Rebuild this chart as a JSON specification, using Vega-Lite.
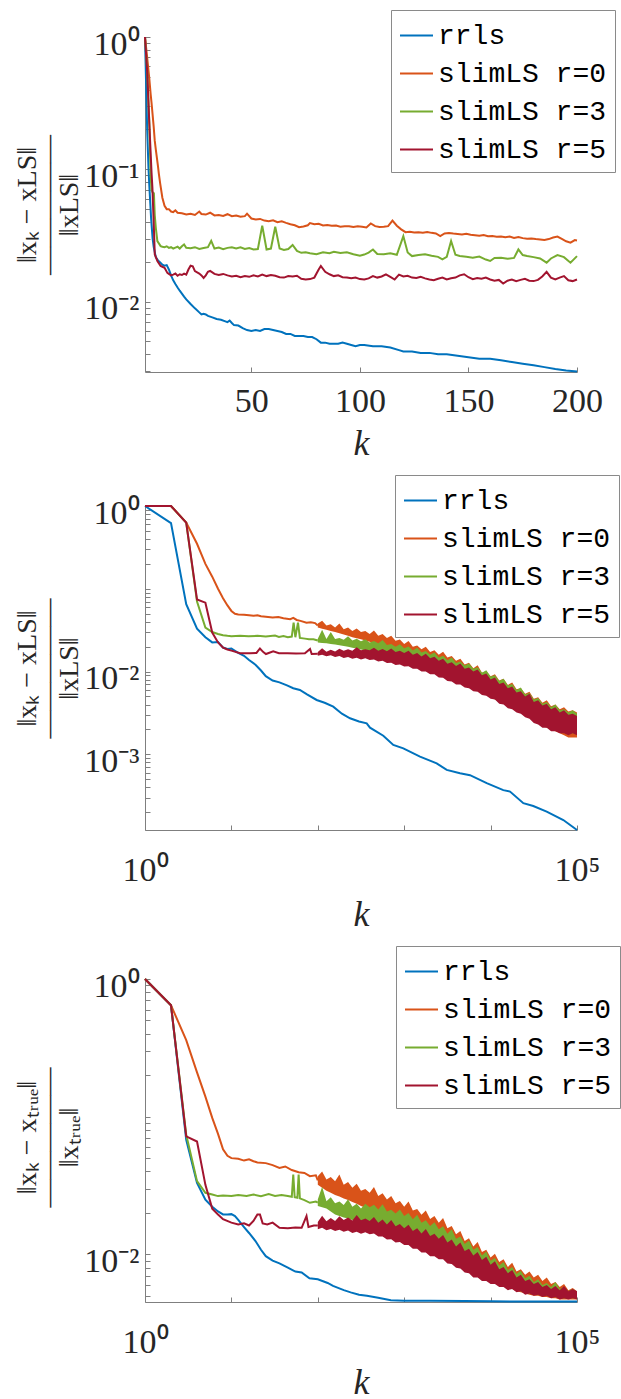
{
"$schema":"https://vega.github.io/schema/vega-lite/v6.json",
"padding":{"left":13,"top":9,"right":0,"bottom":0},
"spacing":13,
"resolve":{"scale":{"color":"independent","fill":"independent"},"legend":{"color":"independent","fill":"independent"}},
"config":{
 "view":{"stroke":null},
 "axis":{"domainColor":"#7f7f7f","tickColor":"#7f7f7f","tickSize":-5,"grid":false,"labelFont":"Liberation Serif","labelFontSize":34,"labelColor":"#262626","titleFont":"Liberation Serif","titleColor":"#262626","titleFontWeight":"normal","labelOverlap":false,"labelFlush":false,"labelBound":false},
 "axisX":{"titleFontStyle":"italic","titleFontSize":36,"titleBaseline":"alphabetic","labelPadding":28},
 "axisY":{"titleAngle":-90,"titleAlign":"center","titleBaseline":"top","titleFontSize":28,"titleLineHeight":21,"labelOffset":7,"labelPadding":11},
 "legend":{"orient":"none","fillColor":"white","strokeColor":"#8a8a8a","padding":8,"symbolType":"stroke","symbolSize":1089,"symbolStrokeWidth":2,"labelFont":"Liberation Mono","labelFontSize":28,"labelColor":"#000000","labelOffset":4,"rowPadding":6,"labelLimit":400},
 "line":{"strokeWidth":2}
},
"datasets":{
"l1":[
{"s":"rrls","k":1,"v":1},{"s":"rrls","k":2,"v":0.2},{"s":"rrls","k":2.6,"v":0.103},{"s":"rrls","k":3,"v":0.075},{"s":"rrls","k":3.8,"v":0.043},{"s":"rrls","k":4.5,"v":0.03},{"s":"rrls","k":5,"v":0.026},{"s":"rrls","k":6,"v":0.0216},{"s":"rrls","k":7,"v":0.0205},{"s":"rrls","k":8,"v":0.0198},{"s":"rrls","k":9,"v":0.019},{"s":"rrls","k":10,"v":0.0187},{"s":"rrls","k":11,"v":0.0189},{"s":"rrls","k":12,"v":0.0175},{"s":"rrls","k":13,"v":0.0158},{"s":"rrls","k":14,"v":0.0145},{"s":"rrls","k":15,"v":0.0136},{"s":"rrls","k":16,"v":0.0128},{"s":"rrls","k":17,"v":0.0121},{"s":"rrls","k":18,"v":0.0115},{"s":"rrls","k":19,"v":0.0109},{"s":"rrls","k":20,"v":0.0104},{"s":"rrls","k":22,"v":0.0096},{"s":"rrls","k":24,"v":0.0089},{"s":"rrls","k":26,"v":0.0083},{"s":"rrls","k":27,"v":0.008},{"s":"rrls","k":28,"v":0.0081},{"s":"rrls","k":29,"v":0.008},{"s":"rrls","k":30,"v":0.0078},{"s":"rrls","k":32,"v":0.0076},{"s":"rrls","k":34,"v":0.0074},{"s":"rrls","k":36,"v":0.0073},{"s":"rrls","k":38,"v":0.0071},{"s":"rrls","k":39,"v":0.007},{"s":"rrls","k":40,"v":0.0072},{"s":"rrls","k":41,"v":0.0069},{"s":"rrls","k":42,"v":0.00665},{"s":"rrls","k":44,"v":0.0066},{"s":"rrls","k":46,"v":0.0063},{"s":"rrls","k":48,"v":0.0061},{"s":"rrls","k":50,"v":0.006},{"s":"rrls","k":52,"v":0.0061},{"s":"rrls","k":54,"v":0.006},{"s":"rrls","k":56,"v":0.0062},{"s":"rrls","k":58,"v":0.0062},{"s":"rrls","k":60,"v":0.0061},{"s":"rrls","k":62,"v":0.006},{"s":"rrls","k":64,"v":0.0059},{"s":"rrls","k":66,"v":0.0057},{"s":"rrls","k":68,"v":0.0057},{"s":"rrls","k":70,"v":0.0055},{"s":"rrls","k":72,"v":0.0055},{"s":"rrls","k":74,"v":0.0055},{"s":"rrls","k":76,"v":0.0054},{"s":"rrls","k":78,"v":0.0054},{"s":"rrls","k":80,"v":0.0052},{"s":"rrls","k":82,"v":0.0049},{"s":"rrls","k":84,"v":0.0049},{"s":"rrls","k":86,"v":0.0048},{"s":"rrls","k":88,"v":0.0048},{"s":"rrls","k":90,"v":0.0048},{"s":"rrls","k":92,"v":0.0049},{"s":"rrls","k":94,"v":0.0048},{"s":"rrls","k":96,"v":0.0047},{"s":"rrls","k":98,"v":0.0046},{"s":"rrls","k":100,"v":0.0047},{"s":"rrls","k":102,"v":0.0047},{"s":"rrls","k":106,"v":0.0046},{"s":"rrls","k":110,"v":0.0046},{"s":"rrls","k":114,"v":0.0045},{"s":"rrls","k":118,"v":0.0043},{"s":"rrls","k":120,"v":0.0042},{"s":"rrls","k":124,"v":0.0042},{"s":"rrls","k":128,"v":0.0041},{"s":"rrls","k":132,"v":0.0041},{"s":"rrls","k":136,"v":0.004},{"s":"rrls","k":140,"v":0.004},{"s":"rrls","k":145,"v":0.0039},{"s":"rrls","k":150,"v":0.0038},{"s":"rrls","k":155,"v":0.0037},{"s":"rrls","k":160,"v":0.0037},{"s":"rrls","k":165,"v":0.0036},{"s":"rrls","k":170,"v":0.0035},{"s":"rrls","k":175,"v":0.0034},{"s":"rrls","k":180,"v":0.0033},{"s":"rrls","k":185,"v":0.0032},{"s":"rrls","k":190,"v":0.0031},{"s":"rrls","k":195,"v":0.00302},{"s":"rrls","k":200,"v":0.00296},
{"s":"slimLS r=0","k":1,"v":1},{"s":"slimLS r=0","k":2,"v":0.7},{"s":"slimLS r=0","k":3,"v":0.48},{"s":"slimLS r=0","k":3.6,"v":0.37},{"s":"slimLS r=0","k":4,"v":0.32},{"s":"slimLS r=0","k":5,"v":0.21},{"s":"slimLS r=0","k":5.5,"v":0.164},{"s":"slimLS r=0","k":6,"v":0.14},{"s":"slimLS r=0","k":7,"v":0.105},{"s":"slimLS r=0","k":7.4,"v":0.092},{"s":"slimLS r=0","k":8,"v":0.078},{"s":"slimLS r=0","k":9,"v":0.061},{"s":"slimLS r=0","k":10,"v":0.053},{"s":"slimLS r=0","k":11,"v":0.05},{"s":"slimLS r=0","k":12,"v":0.05},{"s":"slimLS r=0","k":13,"v":0.048},{"s":"slimLS r=0","k":14,"v":0.0475},{"s":"slimLS r=0","k":15,"v":0.049},{"s":"slimLS r=0","k":16,"v":0.047},{"s":"slimLS r=0","k":18,"v":0.0465},{"s":"slimLS r=0","k":20,"v":0.0455},{"s":"slimLS r=0","k":22,"v":0.0462},{"s":"slimLS r=0","k":24,"v":0.0452},{"s":"slimLS r=0","k":26,"v":0.048},{"s":"slimLS r=0","k":27,"v":0.046},{"s":"slimLS r=0","k":29,"v":0.0455},{"s":"slimLS r=0","k":31,"v":0.047},{"s":"slimLS r=0","k":33,"v":0.0448},{"s":"slimLS r=0","k":35,"v":0.0452},{"s":"slimLS r=0","k":37,"v":0.0445},{"s":"slimLS r=0","k":39,"v":0.0458},{"s":"slimLS r=0","k":41,"v":0.0442},{"s":"slimLS r=0","k":43,"v":0.0448},{"s":"slimLS r=0","k":45,"v":0.0438},{"s":"slimLS r=0","k":47,"v":0.0443},{"s":"slimLS r=0","k":48,"v":0.0462},{"s":"slimLS r=0","k":50,"v":0.0425},{"s":"slimLS r=0","k":52,"v":0.0418},{"s":"slimLS r=0","k":54,"v":0.0422},{"s":"slimLS r=0","k":56,"v":0.041},{"s":"slimLS r=0","k":58,"v":0.0405},{"s":"slimLS r=0","k":60,"v":0.0412},{"s":"slimLS r=0","k":62,"v":0.0398},{"s":"slimLS r=0","k":64,"v":0.0405},{"s":"slimLS r=0","k":66,"v":0.0394},{"s":"slimLS r=0","k":68,"v":0.0385},{"s":"slimLS r=0","k":70,"v":0.0378},{"s":"slimLS r=0","k":72,"v":0.0365},{"s":"slimLS r=0","k":74,"v":0.037},{"s":"slimLS r=0","k":76,"v":0.0378},{"s":"slimLS r=0","k":77,"v":0.0392},{"s":"slimLS r=0","k":79,"v":0.0385},{"s":"slimLS r=0","k":81,"v":0.0388},{"s":"slimLS r=0","k":83,"v":0.0377},{"s":"slimLS r=0","k":85,"v":0.038},{"s":"slimLS r=0","k":87,"v":0.0374},{"s":"slimLS r=0","k":89,"v":0.0376},{"s":"slimLS r=0","k":91,"v":0.0368},{"s":"slimLS r=0","k":93,"v":0.0372},{"s":"slimLS r=0","k":95,"v":0.0371},{"s":"slimLS r=0","k":97,"v":0.0366},{"s":"slimLS r=0","k":99,"v":0.0372},{"s":"slimLS r=0","k":101,"v":0.0368},{"s":"slimLS r=0","k":103,"v":0.0364},{"s":"slimLS r=0","k":105,"v":0.039},{"s":"slimLS r=0","k":107,"v":0.0372},{"s":"slimLS r=0","k":109,"v":0.0366},{"s":"slimLS r=0","k":111,"v":0.0368},{"s":"slimLS r=0","k":113,"v":0.0372},{"s":"slimLS r=0","k":115,"v":0.041},{"s":"slimLS r=0","k":117,"v":0.0375},{"s":"slimLS r=0","k":119,"v":0.0352},{"s":"slimLS r=0","k":121,"v":0.0335},{"s":"slimLS r=0","k":123,"v":0.0338},{"s":"slimLS r=0","k":125,"v":0.0333},{"s":"slimLS r=0","k":127,"v":0.0335},{"s":"slimLS r=0","k":129,"v":0.0332},{"s":"slimLS r=0","k":131,"v":0.0336},{"s":"slimLS r=0","k":133,"v":0.0331},{"s":"slimLS r=0","k":135,"v":0.0328},{"s":"slimLS r=0","k":137,"v":0.0313},{"s":"slimLS r=0","k":139,"v":0.0328},{"s":"slimLS r=0","k":141,"v":0.033},{"s":"slimLS r=0","k":143,"v":0.0327},{"s":"slimLS r=0","k":145,"v":0.0325},{"s":"slimLS r=0","k":147,"v":0.0322},{"s":"slimLS r=0","k":149,"v":0.0326},{"s":"slimLS r=0","k":151,"v":0.032},{"s":"slimLS r=0","k":153,"v":0.0318},{"s":"slimLS r=0","k":155,"v":0.0315},{"s":"slimLS r=0","k":157,"v":0.0319},{"s":"slimLS r=0","k":159,"v":0.0312},{"s":"slimLS r=0","k":161,"v":0.0313},{"s":"slimLS r=0","k":163,"v":0.031},{"s":"slimLS r=0","k":165,"v":0.0311},{"s":"slimLS r=0","k":167,"v":0.0307},{"s":"slimLS r=0","k":169,"v":0.031},{"s":"slimLS r=0","k":171,"v":0.0303},{"s":"slimLS r=0","k":173,"v":0.0308},{"s":"slimLS r=0","k":175,"v":0.0302},{"s":"slimLS r=0","k":177,"v":0.0299},{"s":"slimLS r=0","k":179,"v":0.03},{"s":"slimLS r=0","k":181,"v":0.0297},{"s":"slimLS r=0","k":183,"v":0.0295},{"s":"slimLS r=0","k":185,"v":0.0293},{"s":"slimLS r=0","k":187,"v":0.0297},{"s":"slimLS r=0","k":189,"v":0.0305},{"s":"slimLS r=0","k":191,"v":0.031},{"s":"slimLS r=0","k":193,"v":0.0298},{"s":"slimLS r=0","k":195,"v":0.0286},{"s":"slimLS r=0","k":197,"v":0.0279},{"s":"slimLS r=0","k":199,"v":0.0292},{"s":"slimLS r=0","k":200,"v":0.029},
{"s":"slimLS r=3","k":1,"v":1},{"s":"slimLS r=3","k":2,"v":0.55},{"s":"slimLS r=3","k":3,"v":0.22},{"s":"slimLS r=3","k":3.6,"v":0.09},{"s":"slimLS r=3","k":4,"v":0.07},{"s":"slimLS r=3","k":4.5,"v":0.067},{"s":"slimLS r=3","k":5.1,"v":0.066},{"s":"slimLS r=3","k":5.5,"v":0.045},{"s":"slimLS r=3","k":6,"v":0.036},{"s":"slimLS r=3","k":6.7,"v":0.0287},{"s":"slimLS r=3","k":8.2,"v":0.0263},{"s":"slimLS r=3","k":9,"v":0.026},{"s":"slimLS r=3","k":10,"v":0.0258},{"s":"slimLS r=3","k":11,"v":0.0262},{"s":"slimLS r=3","k":12,"v":0.0255},{"s":"slimLS r=3","k":13,"v":0.0258},{"s":"slimLS r=3","k":14,"v":0.0252},{"s":"slimLS r=3","k":15,"v":0.0256},{"s":"slimLS r=3","k":16,"v":0.026},{"s":"slimLS r=3","k":17,"v":0.0252},{"s":"slimLS r=3","k":18,"v":0.0262},{"s":"slimLS r=3","k":19,"v":0.027},{"s":"slimLS r=3","k":20,"v":0.0255},{"s":"slimLS r=3","k":22,"v":0.0253},{"s":"slimLS r=3","k":24,"v":0.0258},{"s":"slimLS r=3","k":26,"v":0.025},{"s":"slimLS r=3","k":28,"v":0.0254},{"s":"slimLS r=3","k":30,"v":0.0258},{"s":"slimLS r=3","k":31.5,"v":0.0288},{"s":"slimLS r=3","k":33,"v":0.0252},{"s":"slimLS r=3","k":35,"v":0.0256},{"s":"slimLS r=3","k":37,"v":0.0249},{"s":"slimLS r=3","k":39,"v":0.0255},{"s":"slimLS r=3","k":41,"v":0.0258},{"s":"slimLS r=3","k":43,"v":0.0252},{"s":"slimLS r=3","k":45,"v":0.0257},{"s":"slimLS r=3","k":47,"v":0.025},{"s":"slimLS r=3","k":49,"v":0.0254},{"s":"slimLS r=3","k":51,"v":0.0248},{"s":"slimLS r=3","k":53,"v":0.025},{"s":"slimLS r=3","k":55,"v":0.0375},{"s":"slimLS r=3","k":57,"v":0.0248},{"s":"slimLS r=3","k":59,"v":0.0252},{"s":"slimLS r=3","k":61,"v":0.0368},{"s":"slimLS r=3","k":63,"v":0.0252},{"s":"slimLS r=3","k":65,"v":0.0246},{"s":"slimLS r=3","k":67,"v":0.025},{"s":"slimLS r=3","k":69,"v":0.0268},{"s":"slimLS r=3","k":71,"v":0.0242},{"s":"slimLS r=3","k":73,"v":0.0234},{"s":"slimLS r=3","k":75,"v":0.0236},{"s":"slimLS r=3","k":77,"v":0.0232},{"s":"slimLS r=3","k":80,"v":0.0228},{"s":"slimLS r=3","k":83,"v":0.0236},{"s":"slimLS r=3","k":86,"v":0.0232},{"s":"slimLS r=3","k":88,"v":0.0238},{"s":"slimLS r=3","k":91,"v":0.0233},{"s":"slimLS r=3","k":94,"v":0.0236},{"s":"slimLS r=3","k":97,"v":0.0228},{"s":"slimLS r=3","k":100,"v":0.0222},{"s":"slimLS r=3","k":102,"v":0.0227},{"s":"slimLS r=3","k":104,"v":0.0235},{"s":"slimLS r=3","k":106,"v":0.0248},{"s":"slimLS r=3","k":108,"v":0.0229},{"s":"slimLS r=3","k":111,"v":0.0228},{"s":"slimLS r=3","k":114,"v":0.0232},{"s":"slimLS r=3","k":117,"v":0.0226},{"s":"slimLS r=3","k":120,"v":0.0313},{"s":"slimLS r=3","k":122,"v":0.0235},{"s":"slimLS r=3","k":124,"v":0.0221},{"s":"slimLS r=3","k":127,"v":0.0225},{"s":"slimLS r=3","k":130,"v":0.0228},{"s":"slimLS r=3","k":133,"v":0.0222},{"s":"slimLS r=3","k":136,"v":0.0218},{"s":"slimLS r=3","k":138,"v":0.0209},{"s":"slimLS r=3","k":140,"v":0.0218},{"s":"slimLS r=3","k":142,"v":0.0287},{"s":"slimLS r=3","k":144,"v":0.0226},{"s":"slimLS r=3","k":146,"v":0.0221},{"s":"slimLS r=3","k":149,"v":0.0218},{"s":"slimLS r=3","k":152,"v":0.0215},{"s":"slimLS r=3","k":155,"v":0.0219},{"s":"slimLS r=3","k":158,"v":0.0208},{"s":"slimLS r=3","k":160,"v":0.0203},{"s":"slimLS r=3","k":162,"v":0.0214},{"s":"slimLS r=3","k":165,"v":0.0215},{"s":"slimLS r=3","k":168,"v":0.0211},{"s":"slimLS r=3","k":171,"v":0.0214},{"s":"slimLS r=3","k":173,"v":0.0248},{"s":"slimLS r=3","k":175,"v":0.0225},{"s":"slimLS r=3","k":177,"v":0.0221},{"s":"slimLS r=3","k":180,"v":0.0217},{"s":"slimLS r=3","k":183,"v":0.0212},{"s":"slimLS r=3","k":186,"v":0.0197},{"s":"slimLS r=3","k":188,"v":0.0212},{"s":"slimLS r=3","k":191,"v":0.0225},{"s":"slimLS r=3","k":194,"v":0.0217},{"s":"slimLS r=3","k":197,"v":0.0197},{"s":"slimLS r=3","k":200,"v":0.0221},
{"s":"slimLS r=5","k":1,"v":1},{"s":"slimLS r=5","k":2,"v":0.55},{"s":"slimLS r=5","k":3,"v":0.22},{"s":"slimLS r=5","k":4,"v":0.095},{"s":"slimLS r=5","k":4.4,"v":0.073},{"s":"slimLS r=5","k":5,"v":0.04},{"s":"slimLS r=5","k":5.5,"v":0.0228},{"s":"slimLS r=5","k":6.7,"v":0.0203},{"s":"slimLS r=5","k":8.2,"v":0.0186},{"s":"slimLS r=5","k":10,"v":0.018},{"s":"slimLS r=5","k":11.3,"v":0.0165},{"s":"slimLS r=5","k":12,"v":0.0162},{"s":"slimLS r=5","k":13,"v":0.0158},{"s":"slimLS r=5","k":14,"v":0.016},{"s":"slimLS r=5","k":15,"v":0.0163},{"s":"slimLS r=5","k":16,"v":0.0157},{"s":"slimLS r=5","k":17,"v":0.0161},{"s":"slimLS r=5","k":18,"v":0.0159},{"s":"slimLS r=5","k":19,"v":0.0163},{"s":"slimLS r=5","k":20,"v":0.016},{"s":"slimLS r=5","k":21,"v":0.0175},{"s":"slimLS r=5","k":22,"v":0.0187},{"s":"slimLS r=5","k":23,"v":0.0185},{"s":"slimLS r=5","k":24,"v":0.017},{"s":"slimLS r=5","k":26,"v":0.0163},{"s":"slimLS r=5","k":27,"v":0.0158},{"s":"slimLS r=5","k":28,"v":0.0151},{"s":"slimLS r=5","k":29,"v":0.0158},{"s":"slimLS r=5","k":30,"v":0.0168},{"s":"slimLS r=5","k":31,"v":0.0171},{"s":"slimLS r=5","k":33,"v":0.0162},{"s":"slimLS r=5","k":35,"v":0.0159},{"s":"slimLS r=5","k":37,"v":0.0162},{"s":"slimLS r=5","k":39,"v":0.0158},{"s":"slimLS r=5","k":41,"v":0.0155},{"s":"slimLS r=5","k":43,"v":0.0157},{"s":"slimLS r=5","k":45,"v":0.0153},{"s":"slimLS r=5","k":47,"v":0.0156},{"s":"slimLS r=5","k":49,"v":0.0154},{"s":"slimLS r=5","k":51,"v":0.0158},{"s":"slimLS r=5","k":53,"v":0.0155},{"s":"slimLS r=5","k":55,"v":0.016},{"s":"slimLS r=5","k":57,"v":0.0156},{"s":"slimLS r=5","k":59,"v":0.0159},{"s":"slimLS r=5","k":61,"v":0.0157},{"s":"slimLS r=5","k":63,"v":0.0153},{"s":"slimLS r=5","k":65,"v":0.0152},{"s":"slimLS r=5","k":67,"v":0.0156},{"s":"slimLS r=5","k":69,"v":0.0155},{"s":"slimLS r=5","k":71,"v":0.0157},{"s":"slimLS r=5","k":73,"v":0.0149},{"s":"slimLS r=5","k":75,"v":0.0147},{"s":"slimLS r=5","k":77,"v":0.0148},{"s":"slimLS r=5","k":79,"v":0.0152},{"s":"slimLS r=5","k":81,"v":0.0175},{"s":"slimLS r=5","k":82,"v":0.0186},{"s":"slimLS r=5","k":84,"v":0.0168},{"s":"slimLS r=5","k":86,"v":0.0161},{"s":"slimLS r=5","k":88,"v":0.0156},{"s":"slimLS r=5","k":90,"v":0.0158},{"s":"slimLS r=5","k":92,"v":0.0153},{"s":"slimLS r=5","k":94,"v":0.0152},{"s":"slimLS r=5","k":96,"v":0.015},{"s":"slimLS r=5","k":98,"v":0.0152},{"s":"slimLS r=5","k":100,"v":0.0148},{"s":"slimLS r=5","k":102,"v":0.0147},{"s":"slimLS r=5","k":104,"v":0.015},{"s":"slimLS r=5","k":106,"v":0.0156},{"s":"slimLS r=5","k":108,"v":0.0152},{"s":"slimLS r=5","k":110,"v":0.0155},{"s":"slimLS r=5","k":112,"v":0.0161},{"s":"slimLS r=5","k":114,"v":0.0154},{"s":"slimLS r=5","k":116,"v":0.0147},{"s":"slimLS r=5","k":118,"v":0.016},{"s":"slimLS r=5","k":120,"v":0.0155},{"s":"slimLS r=5","k":122,"v":0.0157},{"s":"slimLS r=5","k":124,"v":0.0152},{"s":"slimLS r=5","k":126,"v":0.0151},{"s":"slimLS r=5","k":128,"v":0.0154},{"s":"slimLS r=5","k":130,"v":0.015},{"s":"slimLS r=5","k":132,"v":0.0147},{"s":"slimLS r=5","k":134,"v":0.0145},{"s":"slimLS r=5","k":136,"v":0.0149},{"s":"slimLS r=5","k":138,"v":0.0152},{"s":"slimLS r=5","k":140,"v":0.0147},{"s":"slimLS r=5","k":142,"v":0.015},{"s":"slimLS r=5","k":144,"v":0.0152},{"s":"slimLS r=5","k":146,"v":0.0158},{"s":"slimLS r=5","k":148,"v":0.0161},{"s":"slimLS r=5","k":150,"v":0.0153},{"s":"slimLS r=5","k":152,"v":0.0148},{"s":"slimLS r=5","k":154,"v":0.0151},{"s":"slimLS r=5","k":156,"v":0.0149},{"s":"slimLS r=5","k":158,"v":0.0152},{"s":"slimLS r=5","k":160,"v":0.0147},{"s":"slimLS r=5","k":162,"v":0.0144},{"s":"slimLS r=5","k":164,"v":0.0146},{"s":"slimLS r=5","k":166,"v":0.0137},{"s":"slimLS r=5","k":168,"v":0.0144},{"s":"slimLS r=5","k":170,"v":0.0147},{"s":"slimLS r=5","k":172,"v":0.0143},{"s":"slimLS r=5","k":174,"v":0.0146},{"s":"slimLS r=5","k":176,"v":0.0149},{"s":"slimLS r=5","k":178,"v":0.0144},{"s":"slimLS r=5","k":180,"v":0.0143},{"s":"slimLS r=5","k":182,"v":0.0146},{"s":"slimLS r=5","k":184,"v":0.0155},{"s":"slimLS r=5","k":186,"v":0.0168},{"s":"slimLS r=5","k":188,"v":0.0152},{"s":"slimLS r=5","k":190,"v":0.0147},{"s":"slimLS r=5","k":192,"v":0.0152},{"s":"slimLS r=5","k":194,"v":0.0156},{"s":"slimLS r=5","k":196,"v":0.0145},{"s":"slimLS r=5","k":198,"v":0.0143},{"s":"slimLS r=5","k":200,"v":0.0147}
],
"l2":[
{"s":"rrls","k":1,"v":1},{"s":"rrls","k":2,"v":0.62},{"s":"rrls","k":3,"v":0.065},{"s":"rrls","k":4,"v":0.033},{"s":"rrls","k":5,"v":0.026},{"s":"rrls","k":6,"v":0.0225},{"s":"rrls","k":7,"v":0.0228},{"s":"rrls","k":8,"v":0.0195},{"s":"rrls","k":9,"v":0.0188},{"s":"rrls","k":10,"v":0.019},{"s":"rrls","k":11,"v":0.0178},{"s":"rrls","k":12,"v":0.0168},{"s":"rrls","k":14,"v":0.0155},{"s":"rrls","k":16,"v":0.0138},{"s":"rrls","k":19,"v":0.0121},{"s":"rrls","k":22,"v":0.0103},{"s":"rrls","k":25,"v":0.0088},{"s":"rrls","k":30,"v":0.0078},{"s":"rrls","k":36,"v":0.0074},{"s":"rrls","k":44,"v":0.0068},{"s":"rrls","k":52,"v":0.0063},{"s":"rrls","k":62,"v":0.006},{"s":"rrls","k":75,"v":0.0053},{"s":"rrls","k":97,"v":0.00454},{"s":"rrls","k":120,"v":0.0042},{"s":"rrls","k":151,"v":0.00377},{"s":"rrls","k":190,"v":0.0031},{"s":"rrls","k":236,"v":0.00273},{"s":"rrls","k":300,"v":0.0025},{"s":"rrls","k":368,"v":0.00237},{"s":"rrls","k":402,"v":0.0021},{"s":"rrls","k":573,"v":0.00168},{"s":"rrls","k":748,"v":0.0013},{"s":"rrls","k":977,"v":0.00118},{"s":"rrls","k":1524,"v":0.00094},{"s":"rrls","k":2377,"v":0.00078},{"s":"rrls","k":3105,"v":0.00065},{"s":"rrls","k":4426,"v":0.00059},{"s":"rrls","k":5781,"v":0.00056},{"s":"rrls","k":9016,"v":0.00045},{"s":"rrls","k":14028,"v":0.00037},{"s":"rrls","k":16788,"v":0.000355},{"s":"rrls","k":23933,"v":0.000257},{"s":"rrls","k":31189,"v":0.000238},{"s":"rrls","k":44566,"v":0.000203},{"s":"rrls","k":69502,"v":0.000161},{"s":"rrls","k":100000,"v":0.000122},
{"s":"slimLS r=0","k":1,"v":1},{"s":"slimLS r=0","k":2,"v":1},{"s":"slimLS r=0","k":3,"v":0.63},{"s":"slimLS r=0","k":4,"v":0.35},{"s":"slimLS r=0","k":5,"v":0.2},{"s":"slimLS r=0","k":6,"v":0.14},{"s":"slimLS r=0","k":7,"v":0.1},{"s":"slimLS r=0","k":8,"v":0.077},{"s":"slimLS r=0","k":9,"v":0.063},{"s":"slimLS r=0","k":10,"v":0.054},{"s":"slimLS r=0","k":11,"v":0.05},{"s":"slimLS r=0","k":12,"v":0.049},{"s":"slimLS r=0","k":14,"v":0.0485},{"s":"slimLS r=0","k":16,"v":0.0478},{"s":"slimLS r=0","k":18,"v":0.0472},{"s":"slimLS r=0","k":20,"v":0.048},{"s":"slimLS r=0","k":22,"v":0.0465},{"s":"slimLS r=0","k":25,"v":0.046},{"s":"slimLS r=0","k":30,"v":0.0449},{"s":"slimLS r=0","k":35,"v":0.0455},{"s":"slimLS r=0","k":40,"v":0.0442},{"s":"slimLS r=0","k":48,"v":0.043},{"s":"slimLS r=0","k":52,"v":0.0445},{"s":"slimLS r=0","k":57,"v":0.042},{"s":"slimLS r=0","k":63,"v":0.041},{"s":"slimLS r=0","k":74,"v":0.039},{"s":"slimLS r=0","k":83,"v":0.0395},{"s":"slimLS r=0","k":93,"v":0.0385},{"s":"slimLS r=0","k":100,"v":0.036},
{"s":"slimLS r=3","k":1,"v":1},{"s":"slimLS r=3","k":2,"v":1},{"s":"slimLS r=3","k":3,"v":0.63},{"s":"slimLS r=3","k":4,"v":0.07},{"s":"slimLS r=3","k":5,"v":0.034},{"s":"slimLS r=3","k":6,"v":0.03},{"s":"slimLS r=3","k":7,"v":0.0285},{"s":"slimLS r=3","k":8,"v":0.0275},{"s":"slimLS r=3","k":9,"v":0.027},{"s":"slimLS r=3","k":10,"v":0.0268},{"s":"slimLS r=3","k":12.6,"v":0.027},{"s":"slimLS r=3","k":15.8,"v":0.0268},{"s":"slimLS r=3","k":20,"v":0.027},{"s":"slimLS r=3","k":25,"v":0.0265},{"s":"slimLS r=3","k":32,"v":0.0272},{"s":"slimLS r=3","k":35.5,"v":0.0262},{"s":"slimLS r=3","k":40,"v":0.0268},{"s":"slimLS r=3","k":45,"v":0.026},{"s":"slimLS r=3","k":50,"v":0.0265},{"s":"slimLS r=3","k":52.5,"v":0.039},{"s":"slimLS r=3","k":55,"v":0.026},{"s":"slimLS r=3","k":59,"v":0.039},{"s":"slimLS r=3","k":62,"v":0.0255},{"s":"slimLS r=3","k":71,"v":0.025},{"s":"slimLS r=3","k":79,"v":0.0246},{"s":"slimLS r=3","k":89,"v":0.0245},{"s":"slimLS r=3","k":100,"v":0.0237},
{"s":"slimLS r=5","k":1,"v":1},{"s":"slimLS r=5","k":2,"v":1},{"s":"slimLS r=5","k":3,"v":0.63},{"s":"slimLS r=5","k":4,"v":0.0744},{"s":"slimLS r=5","k":5,"v":0.068},{"s":"slimLS r=5","k":6,"v":0.0296},{"s":"slimLS r=5","k":7,"v":0.0225},{"s":"slimLS r=5","k":8,"v":0.0195},{"s":"slimLS r=5","k":9,"v":0.0185},{"s":"slimLS r=5","k":10,"v":0.0179},{"s":"slimLS r=5","k":12.6,"v":0.0167},{"s":"slimLS r=5","k":16.4,"v":0.0167},{"s":"slimLS r=5","k":19.5,"v":0.0168},{"s":"slimLS r=5","k":21.4,"v":0.019},{"s":"slimLS r=5","k":23.4,"v":0.0172},{"s":"slimLS r=5","k":25.1,"v":0.0163},{"s":"slimLS r=5","k":30.5,"v":0.0176},{"s":"slimLS r=5","k":35.5,"v":0.0167},{"s":"slimLS r=5","k":44.7,"v":0.0167},{"s":"slimLS r=5","k":56,"v":0.0165},{"s":"slimLS r=5","k":71,"v":0.0166},{"s":"slimLS r=5","k":81.3,"v":0.0187},{"s":"slimLS r=5","k":85,"v":0.0163},{"s":"slimLS r=5","k":100,"v":0.0164}
],
"b2":[
{"s":"slimLS r=0","k":100,"lo":0.034,"hi":0.038},{"s":"slimLS r=0","k":112.2,"lo":0.033,"hi":0.041},{"s":"slimLS r=0","k":125.9,"lo":0.032,"hi":0.036},{"s":"slimLS r=0","k":141.3,"lo":0.031,"hi":0.0374},{"s":"slimLS r=0","k":158.5,"lo":0.03,"hi":0.034},{"s":"slimLS r=0","k":177.8,"lo":0.029,"hi":0.0381},{"s":"slimLS r=0","k":199.5,"lo":0.028,"hi":0.0325},{"s":"slimLS r=0","k":223.9,"lo":0.027,"hi":0.0341},{"s":"slimLS r=0","k":251.2,"lo":0.026,"hi":0.031},{"s":"slimLS r=0","k":281.8,"lo":0.0253,"hi":0.0332},{"s":"slimLS r=0","k":316.2,"lo":0.0245,"hi":0.03},{"s":"slimLS r=0","k":354.8,"lo":0.0238,"hi":0.0309},{"s":"slimLS r=0","k":398.1,"lo":0.023,"hi":0.0285},{"s":"slimLS r=0","k":446.7,"lo":0.0218,"hi":0.0314},{"s":"slimLS r=0","k":501.2,"lo":0.0205,"hi":0.027},{"s":"slimLS r=0","k":562.3,"lo":0.0198,"hi":0.0284},{"s":"slimLS r=0","k":631,"lo":0.019,"hi":0.0255},{"s":"slimLS r=0","k":707.9,"lo":0.0183,"hi":0.027},{"s":"slimLS r=0","k":794.3,"lo":0.0175,"hi":0.0235},{"s":"slimLS r=0","k":891.3,"lo":0.0168,"hi":0.0244},{"s":"slimLS r=0","k":1000,"lo":0.016,"hi":0.0215},{"s":"slimLS r=0","k":1122,"lo":0.0153,"hi":0.0234},{"s":"slimLS r=0","k":1259,"lo":0.0145,"hi":0.02},{"s":"slimLS r=0","k":1413,"lo":0.0138,"hi":0.0206},{"s":"slimLS r=0","k":1585,"lo":0.013,"hi":0.0186},{"s":"slimLS r=0","k":1778,"lo":0.0124,"hi":0.0199},{"s":"slimLS r=0","k":1995,"lo":0.0118,"hi":0.0172},{"s":"slimLS r=0","k":2239,"lo":0.0112,"hi":0.0181},{"s":"slimLS r=0","k":2512,"lo":0.0106,"hi":0.016},{"s":"slimLS r=0","k":2818,"lo":0.0101,"hi":0.0173},{"s":"slimLS r=0","k":3162,"lo":0.0095,"hi":0.0148},{"s":"slimLS r=0","k":3548,"lo":0.009,"hi":0.0154},{"s":"slimLS r=0","k":3981,"lo":0.0085,"hi":0.0135},{"s":"slimLS r=0","k":4467,"lo":0.0081,"hi":0.0143},{"s":"slimLS r=0","k":5012,"lo":0.0076,"hi":0.0122},{"s":"slimLS r=0","k":5623,"lo":0.0072,"hi":0.0128},{"s":"slimLS r=0","k":6310,"lo":0.0068,"hi":0.011},{"s":"slimLS r=0","k":7079,"lo":0.0064,"hi":0.0119},{"s":"slimLS r=0","k":7943,"lo":0.006,"hi":0.0097},{"s":"slimLS r=0","k":8913,"lo":0.0057,"hi":0.0101},{"s":"slimLS r=0","k":10000,"lo":0.0053,"hi":0.0088},{"s":"slimLS r=0","k":11220,"lo":0.005,"hi":0.0093},{"s":"slimLS r=0","k":12589,"lo":0.0046,"hi":0.0078},{"s":"slimLS r=0","k":14125,"lo":0.0043,"hi":0.0082},{"s":"slimLS r=0","k":15849,"lo":0.004,"hi":0.0069},{"s":"slimLS r=0","k":17783,"lo":0.0038,"hi":0.0074},{"s":"slimLS r=0","k":19953,"lo":0.0035,"hi":0.0061},{"s":"slimLS r=0","k":22387,"lo":0.0033,"hi":0.0063},{"s":"slimLS r=0","k":25119,"lo":0.003,"hi":0.0054},{"s":"slimLS r=0","k":28184,"lo":0.0028,"hi":0.0057},{"s":"slimLS r=0","k":31623,"lo":0.0026,"hi":0.0047},{"s":"slimLS r=0","k":35481,"lo":0.0024,"hi":0.0049},{"s":"slimLS r=0","k":39811,"lo":0.0022,"hi":0.0042},{"s":"slimLS r=0","k":44668,"lo":0.0021,"hi":0.0045},{"s":"slimLS r=0","k":50119,"lo":0.002,"hi":0.0038},{"s":"slimLS r=0","k":56234,"lo":0.0019,"hi":0.004},{"s":"slimLS r=0","k":63096,"lo":0.0018,"hi":0.0035},{"s":"slimLS r=0","k":70795,"lo":0.0017,"hi":0.0037},{"s":"slimLS r=0","k":79433,"lo":0.0016,"hi":0.0033},{"s":"slimLS r=0","k":89125,"lo":0.0016,"hi":0.0034},{"s":"slimLS r=0","k":100000,"lo":0.0016,"hi":0.0032},
{"s":"slimLS r=3","k":100,"lo":0.0225,"hi":0.025},{"s":"slimLS r=3","k":112.2,"lo":0.0222,"hi":0.032},{"s":"slimLS r=3","k":125.9,"lo":0.022,"hi":0.0248},{"s":"slimLS r=3","k":141.3,"lo":0.0216,"hi":0.03},{"s":"slimLS r=3","k":158.5,"lo":0.0212,"hi":0.0247},{"s":"slimLS r=3","k":177.8,"lo":0.0208,"hi":0.0254},{"s":"slimLS r=3","k":199.5,"lo":0.0203,"hi":0.0243},{"s":"slimLS r=3","k":223.9,"lo":0.0199,"hi":0.0267},{"s":"slimLS r=3","k":251.2,"lo":0.0194,"hi":0.0238},{"s":"slimLS r=3","k":281.8,"lo":0.019,"hi":0.025},{"s":"slimLS r=3","k":316.2,"lo":0.0185,"hi":0.0232},{"s":"slimLS r=3","k":354.8,"lo":0.018,"hi":0.0246},{"s":"slimLS r=3","k":398.1,"lo":0.0175,"hi":0.0225},{"s":"slimLS r=3","k":446.7,"lo":0.017,"hi":0.0234},{"s":"slimLS r=3","k":501.2,"lo":0.0165,"hi":0.022},{"s":"slimLS r=3","k":562.3,"lo":0.016,"hi":0.024},{"s":"slimLS r=3","k":631,"lo":0.0155,"hi":0.021},{"s":"slimLS r=3","k":707.9,"lo":0.015,"hi":0.0216},{"s":"slimLS r=3","k":794.3,"lo":0.0145,"hi":0.02},{"s":"slimLS r=3","k":891.3,"lo":0.014,"hi":0.0214},{"s":"slimLS r=3","k":1000,"lo":0.0135,"hi":0.0191},{"s":"slimLS r=3","k":1122,"lo":0.013,"hi":0.0201},{"s":"slimLS r=3","k":1259,"lo":0.0125,"hi":0.018},{"s":"slimLS r=3","k":1413,"lo":0.012,"hi":0.0194},{"s":"slimLS r=3","k":1585,"lo":0.0115,"hi":0.017},{"s":"slimLS r=3","k":1778,"lo":0.011,"hi":0.0177},{"s":"slimLS r=3","k":1995,"lo":0.0105,"hi":0.016},{"s":"slimLS r=3","k":2239,"lo":0.01,"hi":0.017},{"s":"slimLS r=3","k":2512,"lo":0.0095,"hi":0.0148},{"s":"slimLS r=3","k":2818,"lo":0.009,"hi":0.0155},{"s":"slimLS r=3","k":3162,"lo":0.0085,"hi":0.0137},{"s":"slimLS r=3","k":3548,"lo":0.0081,"hi":0.0148},{"s":"slimLS r=3","k":3981,"lo":0.0077,"hi":0.0127},{"s":"slimLS r=3","k":4467,"lo":0.0074,"hi":0.0132},{"s":"slimLS r=3","k":5012,"lo":0.007,"hi":0.0118},{"s":"slimLS r=3","k":5623,"lo":0.0066,"hi":0.0125},{"s":"slimLS r=3","k":6310,"lo":0.0062,"hi":0.0108},{"s":"slimLS r=3","k":7079,"lo":0.0059,"hi":0.0113},{"s":"slimLS r=3","k":7943,"lo":0.0055,"hi":0.0097},{"s":"slimLS r=3","k":8913,"lo":0.0052,"hi":0.0104},{"s":"slimLS r=3","k":10000,"lo":0.0049,"hi":0.0087},{"s":"slimLS r=3","k":11220,"lo":0.0046,"hi":0.009},{"s":"slimLS r=3","k":12589,"lo":0.0043,"hi":0.0077},{"s":"slimLS r=3","k":14125,"lo":0.0041,"hi":0.0082},{"s":"slimLS r=3","k":15849,"lo":0.0038,"hi":0.0068},{"s":"slimLS r=3","k":17783,"lo":0.0036,"hi":0.0071},{"s":"slimLS r=3","k":19953,"lo":0.0034,"hi":0.006},{"s":"slimLS r=3","k":22387,"lo":0.0032,"hi":0.0064},{"s":"slimLS r=3","k":25119,"lo":0.003,"hi":0.0053},{"s":"slimLS r=3","k":28184,"lo":0.0028,"hi":0.0055},{"s":"slimLS r=3","k":31623,"lo":0.0026,"hi":0.0046},{"s":"slimLS r=3","k":35481,"lo":0.0025,"hi":0.0048},{"s":"slimLS r=3","k":39811,"lo":0.0023,"hi":0.0041},{"s":"slimLS r=3","k":44668,"lo":0.0022,"hi":0.0043},{"s":"slimLS r=3","k":50119,"lo":0.0021,"hi":0.0037},{"s":"slimLS r=3","k":56234,"lo":0.002,"hi":0.004},{"s":"slimLS r=3","k":63096,"lo":0.0019,"hi":0.0034},{"s":"slimLS r=3","k":70795,"lo":0.0019,"hi":0.0035},{"s":"slimLS r=3","k":79433,"lo":0.0018,"hi":0.0032},{"s":"slimLS r=3","k":89125,"lo":0.0018,"hi":0.0034},{"s":"slimLS r=3","k":100000,"lo":0.0018,"hi":0.0031},
{"s":"slimLS r=5","k":100,"lo":0.0155,"hi":0.0172},{"s":"slimLS r=5","k":112.2,"lo":0.016,"hi":0.0191},{"s":"slimLS r=5","k":125.9,"lo":0.0153,"hi":0.0174},{"s":"slimLS r=5","k":141.3,"lo":0.0158,"hi":0.0184},{"s":"slimLS r=5","k":158.5,"lo":0.015,"hi":0.0175},{"s":"slimLS r=5","k":177.8,"lo":0.0154,"hi":0.0189},{"s":"slimLS r=5","k":199.5,"lo":0.0146,"hi":0.0178},{"s":"slimLS r=5","k":223.9,"lo":0.015,"hi":0.0186},{"s":"slimLS r=5","k":251.2,"lo":0.0143,"hi":0.0179},{"s":"slimLS r=5","k":281.8,"lo":0.0147,"hi":0.0197},{"s":"slimLS r=5","k":316.2,"lo":0.014,"hi":0.0181},{"s":"slimLS r=5","k":354.8,"lo":0.0145,"hi":0.0186},{"s":"slimLS r=5","k":398.1,"lo":0.0138,"hi":0.0181},{"s":"slimLS r=5","k":446.7,"lo":0.014,"hi":0.0194},{"s":"slimLS r=5","k":501.2,"lo":0.0132,"hi":0.0178},{"s":"slimLS r=5","k":562.3,"lo":0.0135,"hi":0.0187},{"s":"slimLS r=5","k":631,"lo":0.0127,"hi":0.0176},{"s":"slimLS r=5","k":707.9,"lo":0.0128,"hi":0.019},{"s":"slimLS r=5","k":794.3,"lo":0.012,"hi":0.0172},{"s":"slimLS r=5","k":891.3,"lo":0.0122,"hi":0.0179},{"s":"slimLS r=5","k":1000,"lo":0.0115,"hi":0.0168},{"s":"slimLS r=5","k":1122,"lo":0.0116,"hi":0.0178},{"s":"slimLS r=5","k":1259,"lo":0.0108,"hi":0.016},{"s":"slimLS r=5","k":1413,"lo":0.0108,"hi":0.0168},{"s":"slimLS r=5","k":1585,"lo":0.01,"hi":0.0152},{"s":"slimLS r=5","k":1778,"lo":0.01,"hi":0.0164},{"s":"slimLS r=5","k":1995,"lo":0.0093,"hi":0.0145},{"s":"slimLS r=5","k":2239,"lo":0.0093,"hi":0.0151},{"s":"slimLS r=5","k":2512,"lo":0.0085,"hi":0.0135},{"s":"slimLS r=5","k":2818,"lo":0.0084,"hi":0.0143},{"s":"slimLS r=5","k":3162,"lo":0.0077,"hi":0.0124},{"s":"slimLS r=5","k":3548,"lo":0.0076,"hi":0.013},{"s":"slimLS r=5","k":3981,"lo":0.007,"hi":0.0117},{"s":"slimLS r=5","k":4467,"lo":0.007,"hi":0.0125},{"s":"slimLS r=5","k":5012,"lo":0.0064,"hi":0.0108},{"s":"slimLS r=5","k":5623,"lo":0.0063,"hi":0.0112},{"s":"slimLS r=5","k":6310,"lo":0.0058,"hi":0.01},{"s":"slimLS r=5","k":7079,"lo":0.0057,"hi":0.0106},{"s":"slimLS r=5","k":7943,"lo":0.0052,"hi":0.009},{"s":"slimLS r=5","k":8913,"lo":0.0051,"hi":0.0095},{"s":"slimLS r=5","k":10000,"lo":0.0047,"hi":0.008},{"s":"slimLS r=5","k":11220,"lo":0.0046,"hi":0.0085},{"s":"slimLS r=5","k":12589,"lo":0.0041,"hi":0.0071},{"s":"slimLS r=5","k":14125,"lo":0.004,"hi":0.0074},{"s":"slimLS r=5","k":15849,"lo":0.0036,"hi":0.0063},{"s":"slimLS r=5","k":17783,"lo":0.0035,"hi":0.0066},{"s":"slimLS r=5","k":19953,"lo":0.0032,"hi":0.0056},{"s":"slimLS r=5","k":22387,"lo":0.0031,"hi":0.0058},{"s":"slimLS r=5","k":25119,"lo":0.0028,"hi":0.005},{"s":"slimLS r=5","k":28184,"lo":0.0027,"hi":0.0054},{"s":"slimLS r=5","k":31623,"lo":0.0024,"hi":0.0043},{"s":"slimLS r=5","k":35481,"lo":0.0023,"hi":0.0045},{"s":"slimLS r=5","k":39811,"lo":0.0021,"hi":0.0039},{"s":"slimLS r=5","k":44668,"lo":0.0021,"hi":0.0041},{"s":"slimLS r=5","k":50119,"lo":0.0019,"hi":0.0035},{"s":"slimLS r=5","k":56234,"lo":0.0019,"hi":0.0037},{"s":"slimLS r=5","k":63096,"lo":0.0018,"hi":0.0032},{"s":"slimLS r=5","k":70795,"lo":0.0018,"hi":0.0034},{"s":"slimLS r=5","k":79433,"lo":0.0017,"hi":0.003},{"s":"slimLS r=5","k":89125,"lo":0.0018,"hi":0.0031},{"s":"slimLS r=5","k":100000,"lo":0.0017,"hi":0.0029}
],
"l3":[
{"s":"rrls","k":1,"v":1},{"s":"rrls","k":2,"v":0.644},{"s":"rrls","k":3,"v":0.068},{"s":"rrls","k":4,"v":0.033},{"s":"rrls","k":5,"v":0.025},{"s":"rrls","k":6,"v":0.0222},{"s":"rrls","k":7,"v":0.0205},{"s":"rrls","k":8,"v":0.0195},{"s":"rrls","k":9,"v":0.0195},{"s":"rrls","k":10,"v":0.0196},{"s":"rrls","k":11,"v":0.019},{"s":"rrls","k":12,"v":0.0178},{"s":"rrls","k":14,"v":0.0158},{"s":"rrls","k":16,"v":0.0143},{"s":"rrls","k":19,"v":0.0125},{"s":"rrls","k":22,"v":0.0108},{"s":"rrls","k":25,"v":0.0097},{"s":"rrls","k":30,"v":0.009},{"s":"rrls","k":36,"v":0.0086},{"s":"rrls","k":45,"v":0.008},{"s":"rrls","k":55,"v":0.0075},{"s":"rrls","k":65,"v":0.0074},{"s":"rrls","k":80,"v":0.0067},{"s":"rrls","k":100,"v":0.0066},{"s":"rrls","k":130,"v":0.0062},{"s":"rrls","k":150,"v":0.0059},{"s":"rrls","k":200,"v":0.0055},{"s":"rrls","k":240,"v":0.0053},{"s":"rrls","k":300,"v":0.0051},{"s":"rrls","k":370,"v":0.005},{"s":"rrls","k":500,"v":0.00485},{"s":"rrls","k":700,"v":0.00465},{"s":"rrls","k":1000,"v":0.0046},{"s":"rrls","k":2000,"v":0.0046},{"s":"rrls","k":5000,"v":0.00458},{"s":"rrls","k":10000,"v":0.00456},{"s":"rrls","k":30000,"v":0.00455},{"s":"rrls","k":100000,"v":0.00455},
{"s":"slimLS r=0","k":1,"v":1},{"s":"slimLS r=0","k":2,"v":0.644},{"s":"slimLS r=0","k":3,"v":0.36},{"s":"slimLS r=0","k":4,"v":0.21},{"s":"slimLS r=0","k":5,"v":0.14},{"s":"slimLS r=0","k":6,"v":0.098},{"s":"slimLS r=0","k":7,"v":0.075},{"s":"slimLS r=0","k":8,"v":0.058},{"s":"slimLS r=0","k":9,"v":0.052},{"s":"slimLS r=0","k":10,"v":0.05},{"s":"slimLS r=0","k":12,"v":0.0495},{"s":"slimLS r=0","k":14,"v":0.048},{"s":"slimLS r=0","k":16,"v":0.049},{"s":"slimLS r=0","k":18,"v":0.0475},{"s":"slimLS r=0","k":20,"v":0.0465},{"s":"slimLS r=0","k":25,"v":0.046},{"s":"slimLS r=0","k":30,"v":0.0445},{"s":"slimLS r=0","k":36,"v":0.0425},{"s":"slimLS r=0","k":42,"v":0.0435},{"s":"slimLS r=0","k":50,"v":0.041},{"s":"slimLS r=0","k":60,"v":0.0395},{"s":"slimLS r=0","k":70,"v":0.039},{"s":"slimLS r=0","k":81,"v":0.037},{"s":"slimLS r=0","k":95,"v":0.0375},{"s":"slimLS r=0","k":100,"v":0.0345},
{"s":"slimLS r=3","k":1,"v":1},{"s":"slimLS r=3","k":2,"v":0.644},{"s":"slimLS r=3","k":3,"v":0.074},{"s":"slimLS r=3","k":4,"v":0.034},{"s":"slimLS r=3","k":5,"v":0.028},{"s":"slimLS r=3","k":6,"v":0.0272},{"s":"slimLS r=3","k":7,"v":0.0265},{"s":"slimLS r=3","k":8,"v":0.0268},{"s":"slimLS r=3","k":10,"v":0.0265},{"s":"slimLS r=3","k":12,"v":0.027},{"s":"slimLS r=3","k":15,"v":0.0266},{"s":"slimLS r=3","k":18,"v":0.0272},{"s":"slimLS r=3","k":22,"v":0.0265},{"s":"slimLS r=3","k":27,"v":0.0274},{"s":"slimLS r=3","k":32,"v":0.0266},{"s":"slimLS r=3","k":38,"v":0.027},{"s":"slimLS r=3","k":45,"v":0.0265},{"s":"slimLS r=3","k":50,"v":0.0262},{"s":"slimLS r=3","k":52,"v":0.038},{"s":"slimLS r=3","k":54,"v":0.026},{"s":"slimLS r=3","k":58,"v":0.0258},{"s":"slimLS r=3","k":60,"v":0.038},{"s":"slimLS r=3","k":62,"v":0.0255},{"s":"slimLS r=3","k":70,"v":0.0248},{"s":"slimLS r=3","k":81,"v":0.0237},{"s":"slimLS r=3","k":95,"v":0.0242},{"s":"slimLS r=3","k":100,"v":0.0238},
{"s":"slimLS r=5","k":1,"v":1},{"s":"slimLS r=5","k":2,"v":0.644},{"s":"slimLS r=5","k":3,"v":0.072},{"s":"slimLS r=5","k":4,"v":0.066},{"s":"slimLS r=5","k":5,"v":0.032},{"s":"slimLS r=5","k":6,"v":0.0215},{"s":"slimLS r=5","k":7,"v":0.0195},{"s":"slimLS r=5","k":8,"v":0.018},{"s":"slimLS r=5","k":10,"v":0.017},{"s":"slimLS r=5","k":12,"v":0.0165},{"s":"slimLS r=5","k":14,"v":0.0168},{"s":"slimLS r=5","k":16,"v":0.0162},{"s":"slimLS r=5","k":18,"v":0.0175},{"s":"slimLS r=5","k":20,"v":0.0195},{"s":"slimLS r=5","k":21.4,"v":0.0195},{"s":"slimLS r=5","k":23,"v":0.0168},{"s":"slimLS r=5","k":26,"v":0.0165},{"s":"slimLS r=5","k":30,"v":0.017},{"s":"slimLS r=5","k":36,"v":0.0156},{"s":"slimLS r=5","k":45,"v":0.0155},{"s":"slimLS r=5","k":55,"v":0.0157},{"s":"slimLS r=5","k":65,"v":0.0156},{"s":"slimLS r=5","k":74,"v":0.019},{"s":"slimLS r=5","k":78,"v":0.0158},{"s":"slimLS r=5","k":90,"v":0.0162},{"s":"slimLS r=5","k":100,"v":0.0162}
],
"b3":[
{"s":"slimLS r=0","k":100,"lo":0.032,"hi":0.037},{"s":"slimLS r=0","k":112.2,"lo":0.0305,"hi":0.04},{"s":"slimLS r=0","k":125.9,"lo":0.029,"hi":0.035},{"s":"slimLS r=0","k":141.3,"lo":0.028,"hi":0.0364},{"s":"slimLS r=0","k":158.5,"lo":0.027,"hi":0.034},{"s":"slimLS r=0","k":177.8,"lo":0.0263,"hi":0.0381},{"s":"slimLS r=0","k":199.5,"lo":0.0255,"hi":0.032},{"s":"slimLS r=0","k":223.9,"lo":0.0248,"hi":0.0336},{"s":"slimLS r=0","k":251.2,"lo":0.024,"hi":0.0305},{"s":"slimLS r=0","k":281.8,"lo":0.0233,"hi":0.0326},{"s":"slimLS r=0","k":316.2,"lo":0.0225,"hi":0.029},{"s":"slimLS r=0","k":354.8,"lo":0.0218,"hi":0.0299},{"s":"slimLS r=0","k":398.1,"lo":0.021,"hi":0.028},{"s":"slimLS r=0","k":446.7,"lo":0.0203,"hi":0.0308},{"s":"slimLS r=0","k":501.2,"lo":0.0195,"hi":0.0265},{"s":"slimLS r=0","k":562.3,"lo":0.0189,"hi":0.0278},{"s":"slimLS r=0","k":631,"lo":0.0182,"hi":0.025},{"s":"slimLS r=0","k":707.9,"lo":0.0175,"hi":0.0265},{"s":"slimLS r=0","k":794.3,"lo":0.0168,"hi":0.0235},{"s":"slimLS r=0","k":891.3,"lo":0.0162,"hi":0.0244},{"s":"slimLS r=0","k":1000,"lo":0.0155,"hi":0.0222},{"s":"slimLS r=0","k":1122,"lo":0.0149,"hi":0.0242},{"s":"slimLS r=0","k":1259,"lo":0.0143,"hi":0.0208},{"s":"slimLS r=0","k":1413,"lo":0.0137,"hi":0.0214},{"s":"slimLS r=0","k":1585,"lo":0.0131,"hi":0.0194},{"s":"slimLS r=0","k":1778,"lo":0.0126,"hi":0.0208},{"s":"slimLS r=0","k":1995,"lo":0.012,"hi":0.0181},{"s":"slimLS r=0","k":2239,"lo":0.0115,"hi":0.019},{"s":"slimLS r=0","k":2512,"lo":0.011,"hi":0.017},{"s":"slimLS r=0","k":2818,"lo":0.0105,"hi":0.0184},{"s":"slimLS r=0","k":3162,"lo":0.01,"hi":0.0155},{"s":"slimLS r=0","k":3548,"lo":0.0096,"hi":0.0161},{"s":"slimLS r=0","k":3981,"lo":0.0091,"hi":0.014},{"s":"slimLS r=0","k":4467,"lo":0.0087,"hi":0.0148},{"s":"slimLS r=0","k":5012,"lo":0.0083,"hi":0.0125},{"s":"slimLS r=0","k":5623,"lo":0.008,"hi":0.0131},{"s":"slimLS r=0","k":6310,"lo":0.0076,"hi":0.0114},{"s":"slimLS r=0","k":7079,"lo":0.0073,"hi":0.0123},{"s":"slimLS r=0","k":7943,"lo":0.007,"hi":0.0104},{"s":"slimLS r=0","k":8913,"lo":0.0068,"hi":0.0108},{"s":"slimLS r=0","k":10000,"lo":0.0065,"hi":0.0095},{"s":"slimLS r=0","k":11220,"lo":0.0063,"hi":0.0101},{"s":"slimLS r=0","k":12589,"lo":0.006,"hi":0.0088},{"s":"slimLS r=0","k":14125,"lo":0.0059,"hi":0.0092},{"s":"slimLS r=0","k":15849,"lo":0.0057,"hi":0.0081},{"s":"slimLS r=0","k":17783,"lo":0.0056,"hi":0.0087},{"s":"slimLS r=0","k":19953,"lo":0.0054,"hi":0.0075},{"s":"slimLS r=0","k":22387,"lo":0.0053,"hi":0.0078},{"s":"slimLS r=0","k":25119,"lo":0.0052,"hi":0.0071},{"s":"slimLS r=0","k":28184,"lo":0.0051,"hi":0.0075},{"s":"slimLS r=0","k":31623,"lo":0.005,"hi":0.0068},{"s":"slimLS r=0","k":35481,"lo":0.005,"hi":0.0071},{"s":"slimLS r=0","k":39811,"lo":0.0049,"hi":0.0064},{"s":"slimLS r=0","k":44668,"lo":0.0049,"hi":0.0068},{"s":"slimLS r=0","k":50119,"lo":0.0048,"hi":0.0061},{"s":"slimLS r=0","k":56234,"lo":0.0048,"hi":0.0063},{"s":"slimLS r=0","k":63096,"lo":0.0047,"hi":0.0058},{"s":"slimLS r=0","k":70795,"lo":0.0047,"hi":0.0061},{"s":"slimLS r=0","k":79433,"lo":0.0047,"hi":0.0055},{"s":"slimLS r=0","k":89125,"lo":0.0047,"hi":0.0057},{"s":"slimLS r=0","k":100000,"lo":0.0047,"hi":0.0054},
{"s":"slimLS r=3","k":100,"lo":0.0225,"hi":0.025},{"s":"slimLS r=3","k":112.2,"lo":0.022,"hi":0.031},{"s":"slimLS r=3","k":125.9,"lo":0.0215,"hi":0.0243},{"s":"slimLS r=3","k":141.3,"lo":0.0205,"hi":0.026},{"s":"slimLS r=3","k":158.5,"lo":0.0195,"hi":0.0235},{"s":"slimLS r=3","k":177.8,"lo":0.019,"hi":0.0242},{"s":"slimLS r=3","k":199.5,"lo":0.0185,"hi":0.0228},{"s":"slimLS r=3","k":223.9,"lo":0.0182,"hi":0.0251},{"s":"slimLS r=3","k":251.2,"lo":0.0178,"hi":0.0222},{"s":"slimLS r=3","k":281.8,"lo":0.0175,"hi":0.0233},{"s":"slimLS r=3","k":316.2,"lo":0.0172,"hi":0.0215},{"s":"slimLS r=3","k":354.8,"lo":0.0169,"hi":0.0233},{"s":"slimLS r=3","k":398.1,"lo":0.0165,"hi":0.022},{"s":"slimLS r=3","k":446.7,"lo":0.0162,"hi":0.0229},{"s":"slimLS r=3","k":501.2,"lo":0.0158,"hi":0.0212},{"s":"slimLS r=3","k":562.3,"lo":0.0154,"hi":0.0231},{"s":"slimLS r=3","k":631,"lo":0.015,"hi":0.0205},{"s":"slimLS r=3","k":707.9,"lo":0.0146,"hi":0.0211},{"s":"slimLS r=3","k":794.3,"lo":0.0142,"hi":0.0198},{"s":"slimLS r=3","k":891.3,"lo":0.0139,"hi":0.0212},{"s":"slimLS r=3","k":1000,"lo":0.0135,"hi":0.019},{"s":"slimLS r=3","k":1122,"lo":0.0131,"hi":0.02},{"s":"slimLS r=3","k":1259,"lo":0.0127,"hi":0.018},{"s":"slimLS r=3","k":1413,"lo":0.0123,"hi":0.0194},{"s":"slimLS r=3","k":1585,"lo":0.0119,"hi":0.017},{"s":"slimLS r=3","k":1778,"lo":0.0115,"hi":0.0177},{"s":"slimLS r=3","k":1995,"lo":0.0111,"hi":0.0161},{"s":"slimLS r=3","k":2239,"lo":0.0108,"hi":0.0171},{"s":"slimLS r=3","k":2512,"lo":0.0104,"hi":0.0152},{"s":"slimLS r=3","k":2818,"lo":0.0101,"hi":0.016},{"s":"slimLS r=3","k":3162,"lo":0.0097,"hi":0.0141},{"s":"slimLS r=3","k":3548,"lo":0.0094,"hi":0.0152},{"s":"slimLS r=3","k":3981,"lo":0.009,"hi":0.013},{"s":"slimLS r=3","k":4467,"lo":0.0087,"hi":0.0135},{"s":"slimLS r=3","k":5012,"lo":0.0083,"hi":0.0119},{"s":"slimLS r=3","k":5623,"lo":0.008,"hi":0.0126},{"s":"slimLS r=3","k":6310,"lo":0.0076,"hi":0.0108},{"s":"slimLS r=3","k":7079,"lo":0.0073,"hi":0.0113},{"s":"slimLS r=3","k":7943,"lo":0.007,"hi":0.0098},{"s":"slimLS r=3","k":8913,"lo":0.0068,"hi":0.0105},{"s":"slimLS r=3","k":10000,"lo":0.0065,"hi":0.009},{"s":"slimLS r=3","k":11220,"lo":0.0063,"hi":0.0094},{"s":"slimLS r=3","k":12589,"lo":0.0061,"hi":0.0083},{"s":"slimLS r=3","k":14125,"lo":0.006,"hi":0.0088},{"s":"slimLS r=3","k":15849,"lo":0.0058,"hi":0.0077},{"s":"slimLS r=3","k":17783,"lo":0.0057,"hi":0.0081},{"s":"slimLS r=3","k":19953,"lo":0.0055,"hi":0.0072},{"s":"slimLS r=3","k":22387,"lo":0.0054,"hi":0.0076},{"s":"slimLS r=3","k":25119,"lo":0.0053,"hi":0.0067},{"s":"slimLS r=3","k":28184,"lo":0.0052,"hi":0.007},{"s":"slimLS r=3","k":31623,"lo":0.0051,"hi":0.0063},{"s":"slimLS r=3","k":35481,"lo":0.0051,"hi":0.0066},{"s":"slimLS r=3","k":39811,"lo":0.005,"hi":0.006},{"s":"slimLS r=3","k":44668,"lo":0.005,"hi":0.0062},{"s":"slimLS r=3","k":50119,"lo":0.0049,"hi":0.0058},{"s":"slimLS r=3","k":56234,"lo":0.0049,"hi":0.0063},{"s":"slimLS r=3","k":63096,"lo":0.0048,"hi":0.0056},{"s":"slimLS r=3","k":70795,"lo":0.0048,"hi":0.0058},{"s":"slimLS r=3","k":79433,"lo":0.0048,"hi":0.0054},{"s":"slimLS r=3","k":89125,"lo":0.0048,"hi":0.0056},{"s":"slimLS r=3","k":100000,"lo":0.0048,"hi":0.0053},
{"s":"slimLS r=5","k":100,"lo":0.0152,"hi":0.0172},{"s":"slimLS r=5","k":112.2,"lo":0.0156,"hi":0.0191},{"s":"slimLS r=5","k":125.9,"lo":0.015,"hi":0.0174},{"s":"slimLS r=5","k":141.3,"lo":0.0153,"hi":0.0184},{"s":"slimLS r=5","k":158.5,"lo":0.0148,"hi":0.0175},{"s":"slimLS r=5","k":177.8,"lo":0.0151,"hi":0.0189},{"s":"slimLS r=5","k":199.5,"lo":0.0146,"hi":0.0178},{"s":"slimLS r=5","k":223.9,"lo":0.0149,"hi":0.0185},{"s":"slimLS r=5","k":251.2,"lo":0.0143,"hi":0.0176},{"s":"slimLS r=5","k":281.8,"lo":0.0146,"hi":0.0193},{"s":"slimLS r=5","k":316.2,"lo":0.0141,"hi":0.0177},{"s":"slimLS r=5","k":354.8,"lo":0.0145,"hi":0.0182},{"s":"slimLS r=5","k":398.1,"lo":0.014,"hi":0.0175},{"s":"slimLS r=5","k":446.7,"lo":0.0142,"hi":0.0187},{"s":"slimLS r=5","k":501.2,"lo":0.0135,"hi":0.017},{"s":"slimLS r=5","k":562.3,"lo":0.0135,"hi":0.0179},{"s":"slimLS r=5","k":631,"lo":0.0128,"hi":0.0165},{"s":"slimLS r=5","k":707.9,"lo":0.0129,"hi":0.0178},{"s":"slimLS r=5","k":794.3,"lo":0.0122,"hi":0.016},{"s":"slimLS r=5","k":891.3,"lo":0.0123,"hi":0.0166},{"s":"slimLS r=5","k":1000,"lo":0.0117,"hi":0.0155},{"s":"slimLS r=5","k":1122,"lo":0.0117,"hi":0.0164},{"s":"slimLS r=5","k":1259,"lo":0.011,"hi":0.0148},{"s":"slimLS r=5","k":1413,"lo":0.011,"hi":0.0155},{"s":"slimLS r=5","k":1585,"lo":0.0103,"hi":0.0142},{"s":"slimLS r=5","k":1778,"lo":0.0103,"hi":0.0153},{"s":"slimLS r=5","k":1995,"lo":0.0097,"hi":0.0136},{"s":"slimLS r=5","k":2239,"lo":0.0097,"hi":0.0141},{"s":"slimLS r=5","k":2512,"lo":0.0092,"hi":0.013},{"s":"slimLS r=5","k":2818,"lo":0.0092,"hi":0.0138},{"s":"slimLS r=5","k":3162,"lo":0.0086,"hi":0.0122},{"s":"slimLS r=5","k":3548,"lo":0.0085,"hi":0.0128},{"s":"slimLS r=5","k":3981,"lo":0.008,"hi":0.0114},{"s":"slimLS r=5","k":4467,"lo":0.0079,"hi":0.0122},{"s":"slimLS r=5","k":5012,"lo":0.0074,"hi":0.0106},{"s":"slimLS r=5","k":5623,"lo":0.0073,"hi":0.011},{"s":"slimLS r=5","k":6310,"lo":0.0068,"hi":0.0098},{"s":"slimLS r=5","k":7079,"lo":0.0068,"hi":0.0104},{"s":"slimLS r=5","k":7943,"lo":0.0064,"hi":0.0091},{"s":"slimLS r=5","k":8913,"lo":0.0064,"hi":0.0096},{"s":"slimLS r=5","k":10000,"lo":0.0061,"hi":0.0084},{"s":"slimLS r=5","k":11220,"lo":0.0061,"hi":0.0089},{"s":"slimLS r=5","k":12589,"lo":0.0058,"hi":0.0078},{"s":"slimLS r=5","k":14125,"lo":0.0058,"hi":0.0081},{"s":"slimLS r=5","k":15849,"lo":0.0055,"hi":0.0073},{"s":"slimLS r=5","k":17783,"lo":0.0056,"hi":0.0077},{"s":"slimLS r=5","k":19953,"lo":0.0053,"hi":0.0068},{"s":"slimLS r=5","k":22387,"lo":0.0054,"hi":0.0071},{"s":"slimLS r=5","k":25119,"lo":0.0051,"hi":0.0064},{"s":"slimLS r=5","k":28184,"lo":0.0052,"hi":0.0066},{"s":"slimLS r=5","k":31623,"lo":0.005,"hi":0.0061},{"s":"slimLS r=5","k":35481,"lo":0.0051,"hi":0.0063},{"s":"slimLS r=5","k":39811,"lo":0.0049,"hi":0.0058},{"s":"slimLS r=5","k":44668,"lo":0.005,"hi":0.006},{"s":"slimLS r=5","k":50119,"lo":0.0048,"hi":0.0056},{"s":"slimLS r=5","k":56234,"lo":0.0049,"hi":0.0059},{"s":"slimLS r=5","k":63096,"lo":0.0047,"hi":0.0055},{"s":"slimLS r=5","k":70795,"lo":0.0048,"hi":0.0059},{"s":"slimLS r=5","k":79433,"lo":0.0047,"hi":0.0054},{"s":"slimLS r=5","k":89125,"lo":0.0048,"hi":0.0056},{"s":"slimLS r=5","k":100000,"lo":0.0047,"hi":0.0054}
]
},
"vconcat":[
{
 "width":432,"height":335,
 "data":{"name":"l1"},
 "mark":{"type":"line","strokeWidth":2},
 "encoding":{
  "x":{"field":"k","type":"quantitative","scale":{"domain":[1,200],"nice":false,"zero":false},"axis":{"values":[50,100,150,200],"title":"k","titleY":82,"labelPadding":17}},
  "y":{"field":"v","type":"quantitative","scale":{"type":"log","domain":[0.00294,1],"nice":false},"axis":{"values":[0.003,0.004,0.005,0.006,0.007,0.008,0.009,0.01,0.02,0.03,0.04,0.05,0.06,0.07,0.08,0.09,0.1,0.2,0.3,0.4,0.5,0.6,0.7,0.8,0.9,1],"labelExpr":"datum.value == 1 ? '10⁰' : datum.value == 0.1 ? '10⁻¹' : datum.value == 0.01 ? '10⁻²' : ''","title":["‖xₖ − xLS‖","―――――","‖xLS‖"],"titleX":-132,"titleY":167.5}},
  "color":{"field":"s","type":"nominal","scale":{"domain":["rrls","slimLS r=0","slimLS r=3","slimLS r=5"],"range":["#0072BD","#D95319","#77AC30","#A2142F"]},"legend":{"title":null,"orient":"none","legendX":246,"legendY":-27}}
 }
},
{
 "width":432,"height":324,
 "encoding":{
  "x":{"field":"k","type":"quantitative","scale":{"type":"log","domain":[1,100000],"nice":false},"axis":{"values":[1,10,100,1000,10000,100000],"labelExpr":"datum.value == 1 ? '10⁰' : datum.value == 100000 ? '10⁵' : ''","title":"k","titleY":95}}
 },
 "layer":[
  {"data":{"name":"l2"},"mark":{"type":"line","strokeWidth":2},
   "encoding":{
    "y":{"field":"v","type":"quantitative","scale":{"type":"log","domain":[0.000122,1],"nice":false},"axis":{"values":[0.0002,0.0003,0.0004,0.0005,0.0006,0.0007,0.0008,0.0009,0.001,0.002,0.003,0.004,0.005,0.006,0.007,0.008,0.009,0.01,0.02,0.03,0.04,0.05,0.06,0.07,0.08,0.09,0.1,0.2,0.3,0.4,0.5,0.6,0.7,0.8,0.9,1],"labelExpr":"datum.value == 1 ? '10⁰' : datum.value == 0.01 ? '10⁻²' : datum.value == 0.001 ? '10⁻³' : ''","title":["‖xₖ − xLS‖","―――――","‖xLS‖"],"titleX":-132,"titleY":162}},
    "color":{"field":"s","type":"nominal","scale":{"domain":["rrls","slimLS r=0","slimLS r=3","slimLS r=5"],"range":["#0072BD","#D95319","#77AC30","#A2142F"]},"legend":{"title":null,"orient":"none","legendX":250,"legendY":-31}}}},
  {"data":{"name":"b2"},"mark":{"type":"area"},
   "encoding":{
    "y":{"field":"lo","type":"quantitative","scale":{"type":"log","domain":[0.000122,1],"nice":false},"axis":{"values":[0.0002,0.0003,0.0004,0.0005,0.0006,0.0007,0.0008,0.0009,0.001,0.002,0.003,0.004,0.005,0.006,0.007,0.008,0.009,0.01,0.02,0.03,0.04,0.05,0.06,0.07,0.08,0.09,0.1,0.2,0.3,0.4,0.5,0.6,0.7,0.8,0.9,1],"labelExpr":"datum.value == 1 ? '10⁰' : datum.value == 0.01 ? '10⁻²' : datum.value == 0.001 ? '10⁻³' : ''","title":["‖xₖ − xLS‖","―――――","‖xLS‖"],"titleX":-132,"titleY":162}},
    "y2":{"field":"hi"},
    "fill":{"field":"s","type":"nominal","scale":{"domain":["slimLS r=0","slimLS r=3","slimLS r=5"],"range":["#D95319","#77AC30","#A2142F"]},"legend":null}}}
 ]
},
{
 "width":432,"height":323,
 "encoding":{
  "x":{"field":"k","type":"quantitative","scale":{"type":"log","domain":[1,100000],"nice":false},"axis":{"values":[1,10,100,1000,10000,100000],"labelExpr":"datum.value == 1 ? '10⁰' : datum.value == 100000 ? '10⁵' : ''","title":"k","titleY":91}}
 },
 "layer":[
  {"data":{"name":"l3"},"mark":{"type":"line","strokeWidth":2},
   "encoding":{
    "y":{"field":"v","type":"quantitative","scale":{"type":"log","domain":[0.00451,1],"nice":false},"axis":{"values":[0.005,0.006,0.007,0.008,0.009,0.01,0.02,0.03,0.04,0.05,0.06,0.07,0.08,0.09,0.1,0.2,0.3,0.4,0.5,0.6,0.7,0.8,0.9,1],"labelExpr":"datum.value == 1 ? '10⁰' : datum.value == 0.01 ? '10⁻²' : ''","title":["‖xₖ − xₜᵣᵤₑ‖","―――――","‖xₜᵣᵤₑ‖"],"titleX":-132,"titleY":158}},
    "color":{"field":"s","type":"nominal","scale":{"domain":["rrls","slimLS r=0","slimLS r=3","slimLS r=5"],"range":["#0072BD","#D95319","#77AC30","#A2142F"]},"legend":{"title":null,"orient":"none","legendX":251,"legendY":-33}}}},
  {"data":{"name":"b3"},"mark":{"type":"area"},
   "encoding":{
    "y":{"field":"lo","type":"quantitative","scale":{"type":"log","domain":[0.00451,1],"nice":false},"axis":{"values":[0.005,0.006,0.007,0.008,0.009,0.01,0.02,0.03,0.04,0.05,0.06,0.07,0.08,0.09,0.1,0.2,0.3,0.4,0.5,0.6,0.7,0.8,0.9,1],"labelExpr":"datum.value == 1 ? '10⁰' : datum.value == 0.01 ? '10⁻²' : ''","title":["‖xₖ − xₜᵣᵤₑ‖","―――――","‖xₜᵣᵤₑ‖"],"titleX":-132,"titleY":158}},
    "y2":{"field":"hi"},
    "fill":{"field":"s","type":"nominal","scale":{"domain":["slimLS r=0","slimLS r=3","slimLS r=5"],"range":["#D95319","#77AC30","#A2142F"]},"legend":null}}}
 ]
}
]
}
